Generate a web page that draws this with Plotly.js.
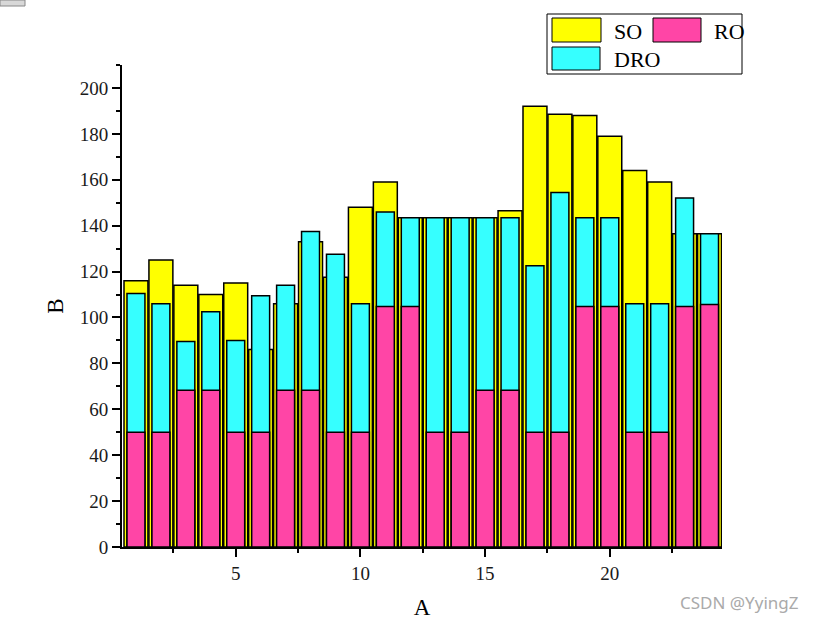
<!DOCTYPE html>
<html>
<head>
<meta charset="utf-8">
<script src="https://cdn.plot.ly/plotly-3.0.1.min.js"></script>
<style>html,body{margin:0;padding:0;background:#fff;}#chart{width:815px;height:624px;}</style>
</head>
<body>
<div id="chart"></div>
<script>
// ---- data ----
const xCats = [1,2,3,4,5,6,7,8,9,10,11,12,13,14,15,16,17,18,19,20,21,22,23,24];
const soValues  = [116,125,114,110,115,86,106,133,117.5,148,159,143.5,143.5,143.5,143.5,146.5,192,188.5,188,179,164,159,136.5,136.5];
const droValues = [110.5,106,89.5,102.5,90,109.5,114,137.5,127.5,106,146,143.5,143.5,143.5,143.5,143.5,122.5,154.5,143.5,143.5,106,106,152,136.5];
const roValues  = [50,50,68.3,68.3,50,50,68.3,68.3,50,50,104.8,104.8,50,50,68.3,68.3,50,50,104.8,104.8,50,50,104.8,105.7];
const seriesNames = ['SO','RO','DRO'];
const xTitle = 'A';
const yTitle = 'B';

// ---- styling ----
const colSO = '#FFFF00', colRO = '#FF45A6', colDRO = '#36FFFF';
const serif = 'Liberation Serif, Times New Roman, serif';
const M = {l:122, r:93, t:65, b:77};
const FW = 815, FH = 624;
const PW = FW - M.l - M.r, PH = FH - M.t - M.b;
const px = x => (x - M.l) / PW;
const py = y => (M.t + PH - y) / PH;

const lineStyle = {color:'#000', width:1.5};
const traces = [
  {type:'bar', name:seriesNames[0], x:xCats, y:soValues, width:0.96,
   marker:{color:colSO, line:lineStyle}, showlegend:false, hoverinfo:'x+y+name'},
  {type:'bar', name:seriesNames[2], x:xCats, y:droValues, width:0.72,
   marker:{color:colDRO, line:lineStyle}, showlegend:false, hoverinfo:'x+y+name'},
  {type:'bar', name:seriesNames[1], x:xCats, y:roValues, width:0.72,
   marker:{color:colRO, line:lineStyle}, showlegend:false, hoverinfo:'x+y+name'}
];

// custom legend (box + swatches + real text)
const legendItems = [
  {name:seriesNames[0], color:colSO,  x0:552, y0:18, x1:601, y1:42, tx:612, ty:31},
  {name:seriesNames[1], color:colRO,  x0:653, y0:18, x1:701, y1:42, tx:712, ty:31},
  {name:seriesNames[2], color:colDRO, x0:552, y0:47, x1:600, y1:70, tx:612, ty:59}
];
const shapes = [
  {type:'rect', xref:'paper', yref:'paper', x0:px(547), x1:px(742), y0:py(14), y1:py(74),
   line:{color:'#000', width:1}, fillcolor:'#fff', layer:'above'},
  {type:'rect', xref:'paper', yref:'paper', x0:px(0), x1:px(25), y0:py(0), y1:py(6),
   line:{color:'#888', width:1}, fillcolor:'#d8d8d8', layer:'above'}
];
const annotations = [];
legendItems.forEach(it => {
  shapes.push({type:'rect', xref:'paper', yref:'paper', x0:px(it.x0), x1:px(it.x1), y0:py(it.y0), y1:py(it.y1),
    line:{color:'#000', width:1}, fillcolor:it.color, layer:'above'});
  annotations.push({xref:'paper', yref:'paper', x:px(it.tx), y:py(it.ty), xanchor:'left', yanchor:'middle',
    text:it.name, showarrow:false, font:{family:serif, size:22, color:'#000'}});
});
annotations.push({xref:'paper', yref:'paper', x:px(801), y:py(602), xanchor:'right', yanchor:'middle',
  text:'CSDN @YyingZ', showarrow:false, font:{family:'Noto Sans, Open Sans, sans-serif', size:17, color:'#aaaaaa'}});

const layout = {
  width:FW, height:FH, margin:M,
  paper_bgcolor:'#fff', plot_bgcolor:'#fff',
  barmode:'overlay', bargap:0,
  font:{family:serif, color:'#000'},
  xaxis:{range:[0.44,24.5], showgrid:false, zeroline:false, showline:true, linecolor:'#000', linewidth:2,
    ticks:'outside', ticklen:8, tickwidth:2, tickcolor:'#000', tick0:0, dtick:5,
    minor:{ticks:'outside', ticklen:4, tickwidth:2, tickcolor:'#000', dtick:2.5},
    tickfont:{family:serif, size:19, color:'#1a1a1a'},
    title:{text:xTitle, font:{family:serif, size:23, color:'#000'}, standoff:16}},
  yaxis:{range:[0,210], showgrid:false, zeroline:false, showline:true, linecolor:'#000', linewidth:2,
    ticks:'outside', ticklen:8, tickwidth:2, tickcolor:'#000', tick0:0, dtick:20,
    minor:{ticks:'outside', ticklen:4, tickwidth:2, tickcolor:'#000', dtick:10},
    tickfont:{family:serif, size:19, color:'#1a1a1a'},
    title:{text:yTitle, font:{family:serif, size:23, color:'#000'}, standoff:10}},
  shapes:shapes, annotations:annotations, showlegend:false
};

Plotly.newPlot('chart', traces, layout, {displayModeBar:false, staticPlot:true});
</script>
</body>
</html>
